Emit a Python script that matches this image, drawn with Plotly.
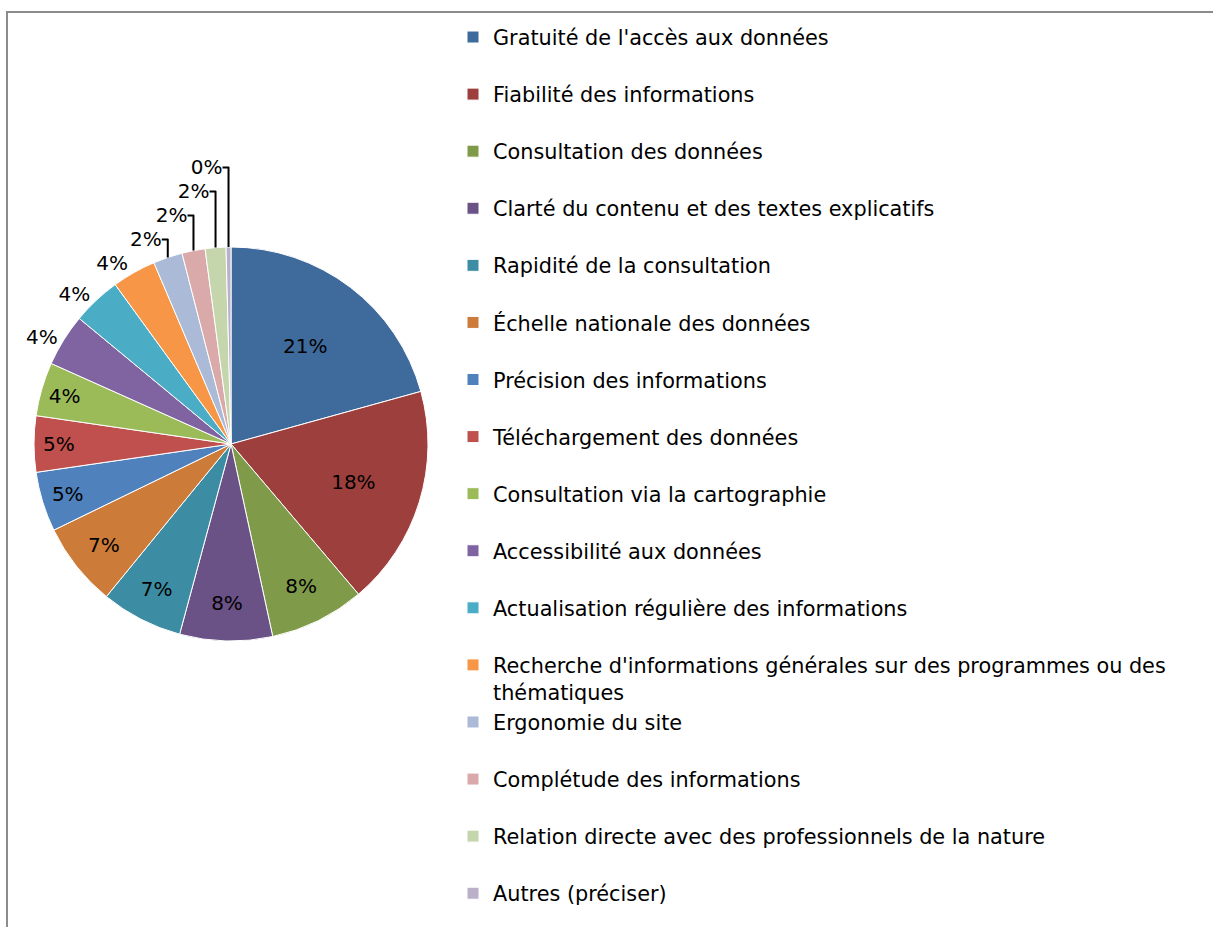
import plotly.graph_objects as go

categories = [
    "Gratuité de l'accès aux données",
    "Fiabilité des informations",
    "Consultation des données",
    "Clarté du contenu et des textes explicatifs",
    "Rapidité de la consultation",
    "Échelle nationale des données",
    "Précision des informations",
    "Téléchargement des données",
    "Consultation via la cartographie",
    "Accessibilité aux données",
    "Actualisation régulière des informations",
    "Recherche d'informations générales sur des programmes ou des thématiques",
    "Ergonomie du site",
    "Complétude des informations",
    "Relation directe avec des professionnels de la nature",
    "Autres (préciser)",
]
values = [20.7, 18.1, 7.8, 7.6, 6.7, 6.9, 4.9, 4.6, 4.4, 4.3, 4.0, 3.6, 2.4, 1.9, 1.7, 0.4]
colors = [
    "#3F6A9C", "#9D3F3D", "#7F9B4A", "#6A5186", "#3C8DA3", "#CC7B38",
    "#4F81BD", "#C0504D", "#9BBB59", "#8064A2", "#4BACC6", "#F79646",
    "#AABAD7", "#D9AAA9", "#C6D6AC", "#BAB0C9",
]
positions = ["inside"] * 9 + ["outside"] * 7

def legend_label(s, last):
    if s.startswith("Recherche"):
        return s.replace(" des thématiques", " des<br>thématiques")
    return s if last else s + "<br> "

labels = [legend_label(c, i == len(categories) - 1) for i, c in enumerate(categories)]

W, H = 1213, 927
cx, cy, r = 231, 444, 197
FONT = "DejaVu Sans"

fig = go.Figure(go.Pie(
    labels=labels,
    values=values,
    sort=False,
    direction="clockwise",
    rotation=0,
    marker=dict(colors=colors, line=dict(color="white", width=1)),
    texttemplate="%{percent:.0%}",
    textposition=positions,
    textfont=dict(family=FONT, size=20, color="black"),
    insidetextorientation="horizontal",
    domain=dict(x=[(cx - r) / W, (cx + r) / W], y=[1 - (cy + r) / H, 1 - (cy - r) / H]),
    hoverinfo="label+percent",
))

fig.update_layout(
    width=W, height=H,
    margin=dict(l=0, r=0, t=0, b=0),
    paper_bgcolor="white",
    font=dict(family=FONT, color="black"),
    showlegend=True,
    legend=dict(
        x=453 / W, xanchor="left", y=1 - 17 / H, yanchor="top",
        font=dict(family=FONT, size=20.8, color="black"),
        valign="top", traceorder="normal", bgcolor="rgba(0,0,0,0)",
        maxheight=1500,
    ),
    shapes=[dict(type="rect", xref="paper", yref="paper",
                 x0=7 / W, x1=1.05, y0=-0.05, y1=1 - 12 / H,
                 line=dict(color="#8C8C8C", width=2))],
)

fig.write_html("out.html", config={"displayModeBar": False},
               post_script="document.body.style.margin='0px';")
